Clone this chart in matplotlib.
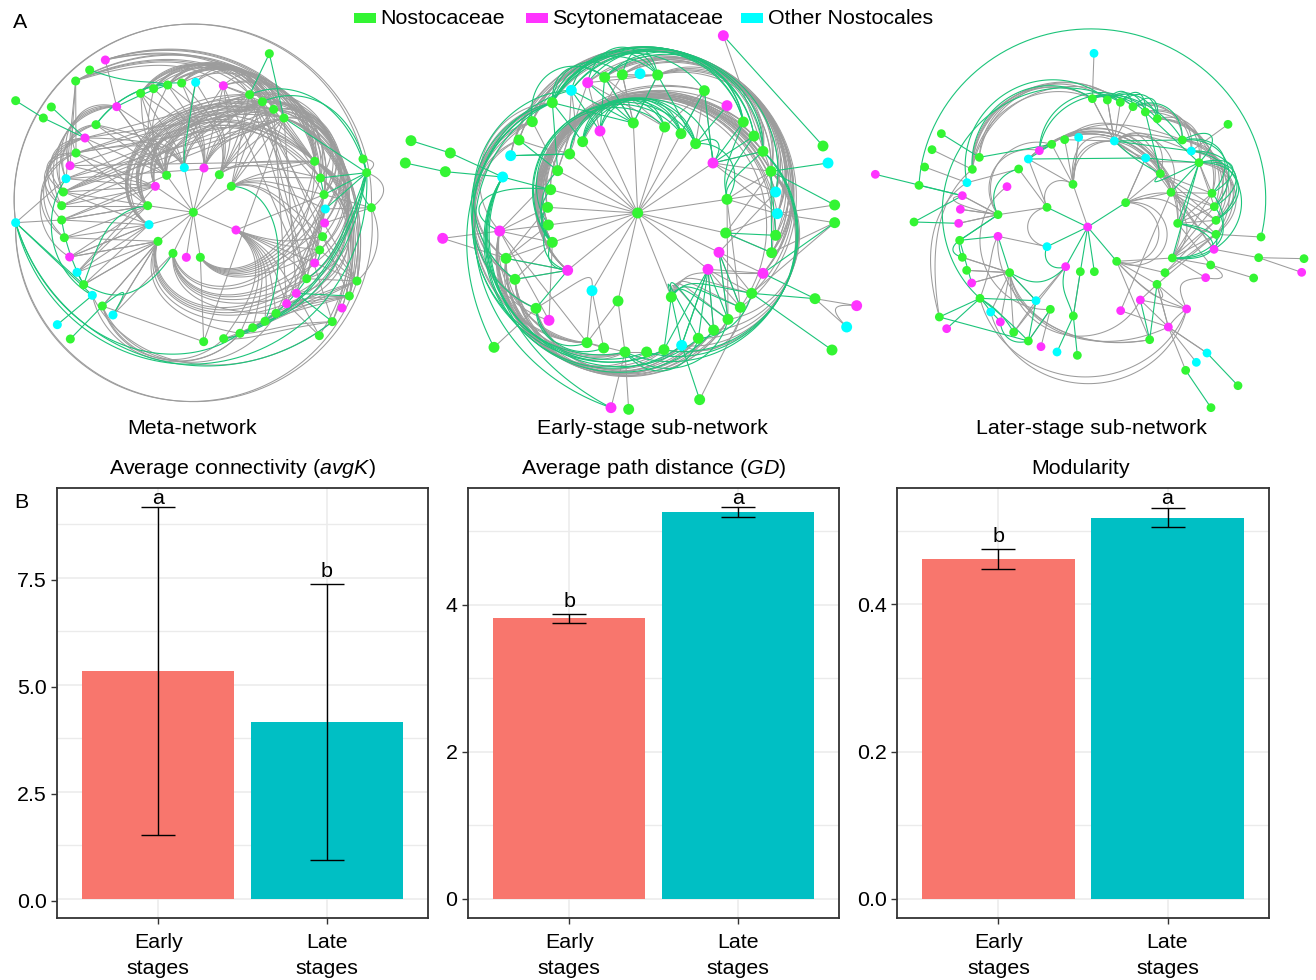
import numpy as np
import matplotlib

matplotlib.use("Agg")
import matplotlib.pyplot as plt
from matplotlib.collections import LineCollection
from matplotlib.patches import Rectangle
from matplotlib.transforms import ScaledTranslation

plt.rcParams["font.family"] = ["Liberation Sans", "DejaVu Sans"]
plt.rcParams["mathtext.fontset"] = "custom"
plt.rcParams["mathtext.rm"] = "Liberation Sans"
plt.rcParams["mathtext.it"] = "Liberation Sans:italic"

W, H = 1316, 980
FS = 15.4

# ---- bar panels ----
stages = ["Early\nstages", "Late\nstages"]
avgk_mean = [5.32, 4.13]
avgk_low = [1.49, 0.91]
avgk_high = [9.15, 7.36]
gd_mean = [3.82, 5.26]
gd_low = [3.755, 5.20]
gd_high = [3.88, 5.33]
mod_mean = [0.461, 0.517]
mod_low = [0.448, 0.505]
mod_high = [0.475, 0.531]
avgk_letters = ["a", "b"]
gd_letters = ["b", "a"]
mod_letters = ["b", "a"]
avgk_ticks = [0.0, 2.5, 5.0, 7.5]
gd_ticks = [0, 2, 4]
mod_ticks = [0.0, 0.2, 0.4]

# ---- networks: node positions are in crop pixels (x, y); nodes not listed as magenta/cyan are green ----
meta_x = [580, 708, 601, 559, 519, 474, 447, 443, 466, 500, 553, 612, 658, 694,
          611, 671, 720, 758, 795, 828, 860, 889, 920, 944, 959, 968, 974, 976, 972, 961, 944,
          852, 821, 787, 749, 670, 587, 545, 503, 461, 422, 350, 288, 255, 228, 210, 198, 190,
          185, 185, 193, 209, 231, 251, 277, 307, 339,
          808, 1089, 1100, 1114, 1071, 1048, 1026, 997, 958, 316, 269, 227, 154, 47, 130, 47, 172, 211]
meta_y = [547, 600, 682, 682, 670, 634, 584, 527, 469, 436, 413, 414, 434, 469,
          935, 926, 910, 893, 874, 850, 821, 790, 746, 699, 660, 620, 579, 537, 494, 444, 394,
          264, 238, 215, 194, 167, 157, 159, 165, 176, 190, 230, 284, 324, 369, 407, 446, 486,
          527, 570, 623, 681, 727, 764, 796, 828, 855,
          71, 387, 428, 533, 753, 798, 834, 875, 917, 90, 120, 153, 231, 212, 264, 578, 884, 927]
meta_magenta = [1, 3, 8, 11, 20, 21, 23, 26, 35, 41, 43, 45, 51, 63, 66]
meta_cyan = [6, 10, 27, 36, 46, 52, 54, 56, 72, 73]

# (hub, direction, mid radius or None for a straight line, targets)
meta_gray = [
    (0, 1, None, list(range(1, 14))),
    (1, 1, 280, [15, 16, 17, 18, 19, 20, 21]),
    (1, 1, 330, [22, 23]),
    (1, -1, 300, [24, 25]),
    (2, -1, 255, [24, 25, 26, 27, 28, 29, 30]),
    (2, 1, None, [14]),
    (4, -1, 270, [19, 21, 22, 23, 24, 28, 30]),
    (5, -1, 285, [16, 18, 20, 21, 22, 23]),
    (5, 1, None, [50, 51, 52, 53, 55, 56]),
    (6, 1, None, [49, 50, 51, 52, 47]),
    (6, 1, 262, [30, 31, 32, 33, 34]),
    (7, 1, None, [47, 48, 49, 50, 44, 43]),
    (7, 1, 258, [29, 30, 31, 32, 33, 34]),
    (8, 1, None, [44, 45, 46, 47, 48]),
    (8, 1, 268, [28, 30, 31, 32, 33]),
    (9, 1, None, [40, 41, 42, 43]),
    (9, 1, 270, [29, 30, 31, 32, 33, 34]),
    (9, 1, 300, [38, 39, 40]),
    (9, -1, 300, [41, 42]),
    (10, -1, 250, [40, 41, 42, 43, 44]),
    (10, 1, 250, [33, 34, 35, 36]),
    (11, 1, 255, [31, 32, 33, 34]),
    (11, -1, 260, [37, 38, 39, 40]),
    (11, 1, None, [35]),
    (12, 1, 240, [29, 30, 31, 32]),
    (12, -1, 270, [33, 34, 35, 36, 37, 38]),
    (13, 1, 250, [27, 28, 29, 30, 24, 25]),
    (13, 1, None, [31, 32, 33, 34]),
    (38, 1, 455, [29, 30, 31, 32, 33, 28]),
    (39, 1, 450, [30, 31, 32, 33]),
    (40, 1, 445, [31, 32, 33, 34, 30]),
    (66, 1, 460, [28, 29, 30, 31, 32]),
    (68, 1, 455, [30, 32, 33, 34, 35, 29]),
    (37, 1, 450, [31, 32, 33, 28]),
    (35, 1, 455, [32, 30, 29]),
    (36, 1, 450, [33, 31]),
    (34, 1, 470, [61, 62, 28, 26]),
    (33, 1, 470, [25, 26, 22, 27, 24]),
    (32, 1, 475, [23, 24, 27, 28, 62, 61]),
    (31, 1, 465, [20, 21, 22, 63, 28, 29, 19]),
    (30, 1, 480, [61, 62, 63, 64, 65, 22]),
    (29, 1, 475, [20, 21, 62, 64]),
    (61, 1, 410, [15, 16, 17]),
    (62, 1, 400, [16, 17, 18, 15]),
    (64, 1, 430, [15, 16]),
    (43, -1, 455, [47, 48, 49, 50]),
    (41, -1, 450, [46, 47, 45, 48, 44]),
    (44, -1, 460, [50, 51, 47, 48]),
    (42, -1, 430, [46, 45, 47]),
    (55, -1, 450, [15, 16, 19]),
    (54, -1, 455, [16, 64]),
    (68, 1, None, [44, 46, 45]),
    (66, 1, None, [41]),
    (47, 1, None, [31, 32, 33, 34]),
    (46, 1, None, [31, 33, 30]),
    (44, 1, None, [33, 34, 31]),
    (43, 1, None, [34, 32]),
    (48, 1, None, [31, 33]),
    (45, 1, None, [30, 33]),
    (31, 1, None, [30, 21, 14]),
    (32, 1, None, [20, 30, 29]),
    (33, 1, None, [62, 30, 64, 22]),
    (34, 1, None, [22, 61, 24, 30]),
    (35, 1, None, [34, 22, 33]),
    (52, 1, None, [7, 8]),
    (49, 1, None, [7, 8, 9]),
    (51, 1, None, [5, 7, 6]),
    (53, 1, None, [6, 5]),
    (55, 1, None, [14, 5]),
    (56, 1, None, [4, 5]),
    (60, 1, None, [27, 26, 28]),
    (61, 1, None, [25, 24, 22, 23]),
    (27, 1, None, [20, 19, 21, 23, 22]),
    (28, 1, None, [21, 22, 23, 1]),
    (65, 1, None, [21, 20]),
    (72, 1, 565, [58, 60]),
    (72, -1, 568, [61, 60]),
    (72, 1, None, [49, 46]),
    (59, 1, 575, [60]),
    (58, 1, 560, [59]),
    (60, 1, 560, [61]),
]
meta_green = [
    (70, 1, None, [71]), (71, 1, None, [43]), (69, 1, None, [43]),
    (67, 1, 430, [38]), (42, 1, 400, [38, 37]), (41, 1, 385, [38]),
    (10, 1, 225, [36]), (57, 1, None, [34, 31]),
    (13, 1, 250, [18]), (7, -1, 270, [53]), (4, 1, 330, [53]),
    (72, 1, None, [53, 54]), (72, -1, 455, [59, 64, 16]), (73, 1, None, [54]), (74, 1, None, [55]),
    (55, -1, 320, [56]), (46, -1, 430, [54]), (49, -1, 390, [53]), (52, 1, None, [53]),
    (31, 1, None, [59]), (33, 1, 520, [59]), (34, 1, 510, [59]),
    (59, 1, None, [58, 28, 29, 27]), (59, 1, 510, [60]), (28, 1, None, [29]),
    (59, 1, 420, [16, 15]), (21, 1, None, [62, 64]), (24, 1, 400, [23]),
    (59, 1, 450, [22, 18]), (16, -1, 390, [22]),
]

early_x = [728, 715, 809, 858, 902, 954, 996, 992, 972, 939, 829, 669, 591, 518, 472, 460, 458, 467, 488, 524, 563, 615,
           788, 735, 682, 629, 578, 529, 472, 412, 372, 347, 323, 314, 333, 360, 423, 462, 576, 626, 690, 755, 807, 860,
           910, 956, 999, 1036, 1070, 1104, 1130, 1142, 1147, 1142, 1128, 1104, 1077, 1045, 996, 928,
           985, 1284, 1299, 1319, 1319, 1260, 1385, 1355, 1311, 914, 701, 648, 297, 143, 151, 166, 48, 31]
early_y = [564, 294, 306, 326, 356, 414, 523, 624, 682, 733, 816, 828, 797, 736, 652, 600, 547, 494, 437, 387, 350, 318,
           150, 146, 149, 157, 173, 196, 233, 290, 345, 392, 456, 618, 700, 763, 850, 886, 953, 969, 981, 981, 974, 961,
           940, 915, 883, 847, 805, 745, 683, 631, 566, 501, 439, 379, 333, 291, 242, 197,
           32, 363, 414, 540, 593, 821, 842, 906, 975, 1124, 1153, 1148, 967, 640, 440, 384, 347, 414]
early_magenta = [5, 8, 9, 13, 21, 26, 33, 37, 49, 58, 60, 66, 71, 73]
early_cyan = [12, 23, 27, 31, 32, 43, 52, 53, 62, 67]

early_gray = [
    (0, 1, None, list(range(1, 22))),
    (1, 1, None, [24, 25, 22]), (2, 1, None, [59]), (3, 1, None, [59]),
    (13, 1, 340, [53, 54, 55, 56, 50, 51, 47]), (14, 1, 338, [57, 59, 54, 55, 53, 52]),
    (15, 1, 335, [57, 56, 59, 55]), (16, 1, 340, [58, 56, 54]), (17, 1, 338, [55, 57]),
    (12, 1, None, [38, 39]), (11, 1, None, [38, 40]), (12, 1, 250, [36]),
    (33, 1, None, [14, 15, 16, 18, 38, 37]), (34, 1, None, [14, 15, 16, 13]),
    (35, 1, None, [13, 14]), (73, 1, None, [33, 34]),
    (40, 1, None, [38, 71, 70, 41]), (40, 1, 470, [35, 34, 36, 33]),
    (38, 1, None, [39]), (38, 1, 450, [33, 34, 35]),
    (22, 1, 490, [53, 52, 54, 55, 50]), (24, 1, 495, [54, 55, 51, 52]), (25, 1, 495, [52, 53, 50]),
    (29, 1, 500, [54, 55, 49]), (30, 1, 495, [49, 48, 50]), (31, 1, 500, [50, 47, 51]),
    (26, 1, 490, [53, 49]), (28, 1, 495, [54, 52]),
    (33, -1, 490, [44, 43, 46, 42, 45]), (34, -1, 495, [45, 44, 46, 41]), (35, -1, 490, [46, 43, 44]),
    (36, -1, 480, [42, 43]), (72, 1, None, [36]),
    (29, -1, 495, [34, 35, 36, 38]), (28, -1, 495, [33, 35, 36, 37, 38]), (30, -1, 490, [35, 34]),
    (54, 1, 495, [42, 43, 44, 45, 46]),
    (22, 1, None, [25, 26, 24]), (24, 1, None, [1, 20]), (25, 1, None, [1, 2]), (26, 1, None, [18, 2]),
    (29, 1, None, [18]), (21, 1, None, [26]),
    (6, 1, None, [52, 53, 54, 47, 46]), (7, 1, None, [50, 52, 54]), (8, 1, None, [48, 49, 47, 46, 53]),
    (9, 1, None, [47, 48, 49, 45]), (10, -1, 250, [45, 46, 47, 48, 49]), (5, 1, None, [54, 53, 52, 55]),
    (60, 1, None, [54]), (69, 1, None, [49]), (43, -1, 470, [47]),
    (63, 1, None, [52]), (64, 1, None, [52, 50, 48]), (65, 1, None, [66, 67]),
    (67, -1, 660, [66]), (37, 1, None, [14]),
    (59, 1, None, [4, 5]), (27, -1, 300, [18, 19]), (30, 1, 320, [19]),
]
early_green = [
    (74, 1, None, [77, 32]), (75, 1, None, [76, 32]), (32, 1, None, [17]), (31, 1, None, [19]),
    (30, 1, None, [18]), (28, 1, None, [20, 18, 1]), (27, 1, None, [1, 21]), (26, 1, None, [1]),
    (25, 1, None, [1, 21]), (22, 1, None, [1, 4]), (59, 1, None, [3]), (58, 1, None, [4]),
    (60, 1, None, [61]), (54, 1, None, [62, 63, 50, 51]), (64, 1, None, [49]),
    (65, 1, None, [48, 49]), (43, 1, None, [69, 9]), (32, -1, 480, [71, 42, 41, 44]),
    (28, -1, 500, [72, 71, 40, 36]), (27, -1, 500, [35, 42]), (32, -1, 495, [43, 45]),
    (55, 1, 495, [42, 41, 40]), (14, 1, 345, [3, 4]), (15, 1, 340, [2]),
    (28, 1, 500, [57, 56, 55, 53]), (28, 1, 480, [22, 24, 25, 59]), (27, 1, 490, [22, 56, 57]),
    (26, 1, 500, [57, 22]), (25, 1, 495, [55, 57]), (24, 1, 490, [22]), (29, 1, 495, [25]),
    (5, 1, None, [55, 56, 57, 59]), (6, -1, 290, [57, 56, 55]), (7, 1, None, [51, 50]),
    (9, 1, None, [46, 45, 43, 42, 44]), (10, 1, None, [42, 43]), (10, -1, 270, [46, 47, 48]),
    (10, -1, 240, [44, 45]), (13, 1, None, [35, 36, 34]), (13, 1, 300, [14, 15]),
    (14, 1, 290, [16, 17, 18]), (19, 1, None, [31]), (4, 1, 320, [5, 6]),
    (20, 1, 345, [3, 4, 2, 5]), (21, 1, 345, [2, 3]), (19, 1, 342, [3, 4]),
    (36, -1, 460, [39, 38]), (40, -1, 480, [44, 46]), (44, -1, 440, [48]),
    (8, 1, None, [47, 46]), (33, 1, 470, [17]), (68, 1, None, [48]),
]

later_x = [668, 624, 782, 755, 688, 646, 602, 546, 546,
           748, 886, 842, 918, 938, 922, 900, 876, 965, 826, 767, 625, 556, 513, 490, 446, 406, 377, 345, 320, 305, 292, 284, 281, 286, 292, 306, 322, 343,
           399, 399, 434, 426, 461, 490, 523, 560, 599, 641, 682, 727, 766, 804, 841, 877, 952, 979, 1002, 1041, 1048, 1053, 1053, 1047, 1037, 1022, 910, 854,
           687, 229, 201, 179, 162, 31, 147, 223, 245, 528, 576, 637, 1026, 994, 962, 1038, 1119, 1089, 1188, 1181, 1317, 1310, 1166]
later_y = [561, 433, 488, 664, 695, 695, 680, 620, 502,
           303, 401, 354, 457, 550, 654, 698, 733, 807, 780, 812, 828, 808, 782, 903, 877, 846, 816, 775, 729, 691, 652, 601, 550, 508, 467, 428, 388, 352,
           589, 524, 698, 440, 387, 357, 332, 313, 299, 292, 176, 180, 187, 200, 216, 236, 300, 333, 368, 460, 500, 541, 583, 628, 675, 713, 861, 899,
           40, 281, 329, 381, 436, 403, 546, 831, 866, 920, 936, 946, 939, 967, 991, 1103, 1037, 253, 591, 653, 656, 697, 714]
later_magenta = [0, 6, 17, 18, 19, 25, 28, 32, 33, 34, 38, 41, 44, 61, 63, 64, 71, 74, 75, 87]
later_cyan = [7, 9, 11, 22, 26, 35, 43, 47, 55, 66, 76, 78, 79]

later_gray = [
    (0, 1, None, [1]),
    (1, 1, None, [45, 46, 47]), (1, 1, 240, [9]), (1, -1, 170, [8]), (1, 1, 260, [9, 11]),
    (2, 1, None, [12, 10, 11]), (2, 1, 290, [13, 14]), (2, 1, 215, [3]), (3, -1, 240, [2]),
    (3, 1, None, [15, 16, 14]), (3, -1, 300, [16, 17]),
    (8, 1, None, [39, 42, 43]), (8, -1, 180, [7]), (7, 1, None, [38]),
    (6, 1, None, [22, 24]), (22, 1, None, [24]), (21, 1, None, [23]), (21, 1, 330, [41]),
    (39, 1, None, [33, 34, 32]), (40, 1, None, [28, 29, 30, 26, 25, 24, 22]), (40, -1, 330, [64, 18]),
    (40, -1, 320, [65]), (38, -1, 310, [65, 27]), (39, 1, 330, [45, 44]), (42, 1, None, [35]),
    (9, 1, None, [48, 49, 50, 46]), (9, 1, 330, [54, 55, 10, 12]), (9, 1, 260, [11, 10, 12, 56]),
    (43, 1, 280, [12, 10, 13]), (44, 1, 290, [12, 13, 14]), (45, 1, 300, [10, 12]), (46, 1, 320, [10, 54]),
    (43, 1, None, [1]), (47, 1, None, [1]),
    (36, 1, 450, [48, 50, 49]), (37, 1, 445, [48, 50]), (36, 1, 430, [48, 51]),
    (68, 1, None, [36]), (69, 1, None, [35]), (66, 1, None, [48]), (48, 1, None, [9]), (49, 1, None, [9]),
    (9, 1, None, [51]), (73, 1, 450, [36]), (73, 1, 470, [35]),
    (27, -1, 450, [17]), (26, -1, 470, [17]), (34, -1, 405, [39]), (34, 1, None, [39]), (33, 1, None, [39]), (32, 1, None, [39]),
    (28, 1, None, [40]), (29, 1, None, [40]), (30, 1, None, [40]),
    (51, 1, 425, [54, 55]), (52, 1, 430, [55, 56, 57]), (53, 1, 435, [57, 58, 59, 56]), (54, 1, 440, [58, 59, 60]),
    (55, 1, 450, [59, 60, 58]), (56, 1, 455, [60, 59]),
    (12, 1, None, [57, 58, 59, 60, 61]), (13, 1, None, [57, 58, 59, 60, 62]), (14, 1, None, [59, 60, 58, 57]),
    (15, 1, None, [59, 60]), (16, 1, None, [60, 17, 64]), (10, 1, None, [57, 59, 58, 61]),
    (11, 1, None, [2]), (56, 1, None, [57, 58]),
    (18, 1, None, [17, 16, 64]), (19, 1, None, [64, 12]), (64, 1, None, [16, 78, 79, 80]),
    (64, -1, 380, [17]), (17, -1, 330, [63]), (63, -1, 430, [62]),
    (75, 1, None, [21]), (78, 1, None, [64]), (83, 1, None, [55]), (84, 1, None, [60]), (85, 1, None, [61, 86, 87]),
    (88, 1, None, [62]), (14, 1, None, [62, 63]), (3, 1, None, [65]), (20, 1, None, [5]),
]
later_green = [
    (0, 1, None, [2, 3, 4, 5, 6, 7, 8]),
    (5, 1, None, [20]), (6, -1, 210, [20]), (6, 1, 230, [40]), (7, -1, 160, [6]), (40, 1, None, [38, 22]),
    (67, 1, None, [37]), (71, 1, None, [34]), (70, 1, None, [34]), (72, 1, None, [34, 32]), (39, 1, None, [31]),
    (37, 1, None, [45]), (45, 1, None, [43, 44]), (43, 1, None, [11]),
    (70, 1, 595, [84]), (36, 1, 455, [48]), (35, 1, 470, [49]), (27, 1, 450, [50]),
    (31, 1, None, [38, 39]), (31, -1, 390, [30]), (39, 1, 300, [42]), (73, 1, None, [27, 23]), (74, 1, None, [27]),
    (27, 1, None, [22]), (27, -1, 370, [23, 24]), (26, 1, 385, [27]), (26, -1, 385, [25]), (25, -1, 410, [23]), (23, 1, None, [21, 22]),
    (28, 1, None, [31]), (30, 1, 410, [31]),
    (76, 1, None, [20]), (77, 1, None, [20]), (78, 1, None, [82]), (80, 1, None, [81]),
    (48, 1, 400, [50, 51, 52]), (49, 1, 420, [51, 52, 53]), (50, 1, 430, [52, 53]), (51, 1, 430, [53, 54]),
    (52, 1, None, [56]), (52, 1, None, [10]), (10, -1, 250, [9]), (10, 1, 250, [56]), (9, 1, None, [55, 54]), (11, 1, None, [56]),
    (44, 1, 400, [54, 53]), (54, 1, 460, [56, 57, 58]), (55, 1, 470, [61, 59]), (56, 1, 470, [58, 59, 57]),
    (56, 1, None, [13, 14, 12]), (13, 1, 380, [14, 61]), (14, -1, 400, [57, 58]), (18, 1, None, [65]), (16, 1, None, [65]),
]

# ---- drawing helpers ----


def edge_segments(xs, ys, groups):
    cx, cy = xs[0], ys[0]
    out = []
    for hub, sense, mid_r, targets in groups:
        for t in targets:
            xa, ya, xb, yb = xs[hub], ys[hub], xs[t], ys[t]
            if mid_r is None:
                out.append([(xa, ya), (xb, yb)])
                continue
            ra, rb = np.hypot(xa - cx, ya - cy), np.hypot(xb - cx, yb - cy)
            tha, thb = np.arctan2(ya - cy, xa - cx), np.arctan2(yb - cy, xb - cx)
            sweep = ((thb - tha) * sense) % (2 * np.pi) * sense
            u = np.linspace(0, 1, 80)
            # radius stays near mid_r for most of the sweep
            rc = (mid_r / 3 - 0.125 * (ra + rb)) / 0.75
            r = (1 - u) ** 3 * ra + 3 * u * (1 - u) * rc + u ** 3 * rb
            th = tha + sweep * u
            out.append(np.column_stack([cx + r * np.cos(th), cy + r * np.sin(th)]))
    return out


def draw_network(ax, xs, ys, magenta, cyan, gray, green, ox, oy, node_size):
    px = np.array(xs) / 3 + ox
    py = np.array(ys) / 3 + oy
    ax.add_collection(LineCollection(edge_segments(px, py, gray), colors="#9c9c9c", linewidths=0.75, zorder=1))
    ax.add_collection(LineCollection(edge_segments(px, py, green), colors="#1cc47a", linewidths=0.8, zorder=2))
    colors = ["#33f533"] * len(px)
    for i in magenta:
        colors[i] = "#ff33ff"
    for i in cyan:
        colors[i] = "#00ffff"
    ax.scatter(px, py, s=node_size, c=colors, linewidths=0, zorder=3)


def bar_panel(box, means, lows, highs, letters, ticks, ylim, tick_shift=0):
    x0, y0, x1, y1 = box
    ax = fig.add_axes([x0 / W, 1 - y1 / H, (x1 - x0) / W, (y1 - y0) / H])
    pos = np.arange(1, len(means) + 1)
    ax.bar(pos, means, width=0.9, color=["#F8766D", "#00BFC4"], zorder=2)
    ax.errorbar(pos, means, yerr=[np.array(means) - np.array(lows), np.array(highs) - np.array(means)],
                fmt="none", ecolor="black", elinewidth=1.0, capsize=12.2, capthick=1.0, zorder=3)
    for p, top, letter in zip(pos, highs, letters):
        lift = 2.6 if letter == "a" else 5.0
        ax.annotate(letter, (p, top), xytext=(0, lift), textcoords="offset points", ha="center", va="baseline", fontsize=FS)
    ax.set_xlim(0.4, 2.6)
    ax.set_ylim(*ylim)
    ax.set_xticks(pos, stages, linespacing=1.42)
    ax.set_yticks(ticks)
    if isinstance(ticks[0], float):
        ax.set_yticklabels([f"{t:.1f}" for t in ticks])
    step = ticks[1] - ticks[0]
    ax.set_yticks(np.arange(ticks[0] + step / 2, ylim[1], step), minor=True)
    ax.tick_params(axis="both", which="major", labelsize=FS, length=4.5, width=1.0, color="#333333", pad=3)
    ax.tick_params(axis="x", which="major", pad=6.5)
    ax.tick_params(axis="y", which="minor", length=0)
    ax.grid(True, which="major", color="#ebebeb", linewidth=1.1)
    ax.grid(True, which="minor", axis="y", color="#ebebeb", linewidth=1.0)
    ax.set_axisbelow(True)
    for spine in ax.spines.values():
        spine.set_color("#333333")
        spine.set_linewidth(1.3)
    if tick_shift:
        # the y ticks of this panel sit a little under their grid lines
        shift = ScaledTranslation(0, -tick_shift / 100, fig.dpi_scale_trans)
        for tick in ax.yaxis.get_major_ticks():
            tick.tick1line.set_transform(tick.tick1line.get_transform() + shift)
            tick.label1.set_transform(tick.label1.get_transform() + shift)
    return ax


fig = plt.figure(figsize=(W / 100, H / 100), dpi=100)
net = fig.add_axes([0, 0, 1, 1])
net.set_xlim(0, W)
net.set_ylim(H, 0)
net.axis("off")

draw_network(net, meta_x, meta_y, meta_magenta, meta_cyan, meta_gray, meta_green, 0, 30, 42)
draw_network(net, early_x, early_y, early_magenta, early_cyan, early_gray, early_green, 395, 25, 62)
draw_network(net, later_x, later_y, later_magenta, later_cyan, later_gray, later_green, 865, 40, 40)

net.text(192, 428, "Meta-network", ha="center", va="center", fontsize=FS)
net.text(652, 428, "Early-stage sub-network", ha="center", va="center", fontsize=FS)
net.text(1091, 428, "Later-stage sub-network", ha="center", va="center", fontsize=FS)
net.text(13, 23, "A", ha="left", va="center", fontsize=FS)

legend_x = [354, 526, 741]
legend_text_x = [380, 552, 768]
legend_names = ["Nostocaceae", "Scytonemataceae", "Other Nostocales"]
legend_cols = ["#33f533", "#ff33ff", "#00ffff"]
for lx, tx, name, col in zip(legend_x, legend_text_x, legend_names, legend_cols):
    net.add_patch(Rectangle((lx, 13), 22, 10, facecolor=col, edgecolor="none"))
    net.text(tx, 19, name, ha="left", va="center", fontsize=FS)

bar_panel((57, 488, 428, 918), avgk_mean, avgk_low, avgk_high, avgk_letters, avgk_ticks, (-0.444, 9.6), tick_shift=2)
bar_panel((468, 488, 839, 918), gd_mean, gd_low, gd_high, gd_letters, gd_ticks, (-0.26, 5.59))
bar_panel((897, 488, 1269, 918), mod_mean, mod_low, mod_high, mod_letters, mod_ticks, (-0.0258, 0.5577))

fig.text(14 / W, 1 - 502 / H, "B", ha="left", va="center", fontsize=FS)
fig.text(242 / W, 1 - 468 / H, r"Average connectivity ($\mathit{avgK}$)", ha="center", va="center", fontsize=FS)
fig.text(654 / W, 1 - 468 / H, r"Average path distance ($\mathit{GD}$)", ha="center", va="center", fontsize=FS)
fig.text(1081 / W, 1 - 468 / H, "Modularity", ha="center", va="center", fontsize=FS)

fig.savefig("out.png", dpi=100)
plt.close(fig)
